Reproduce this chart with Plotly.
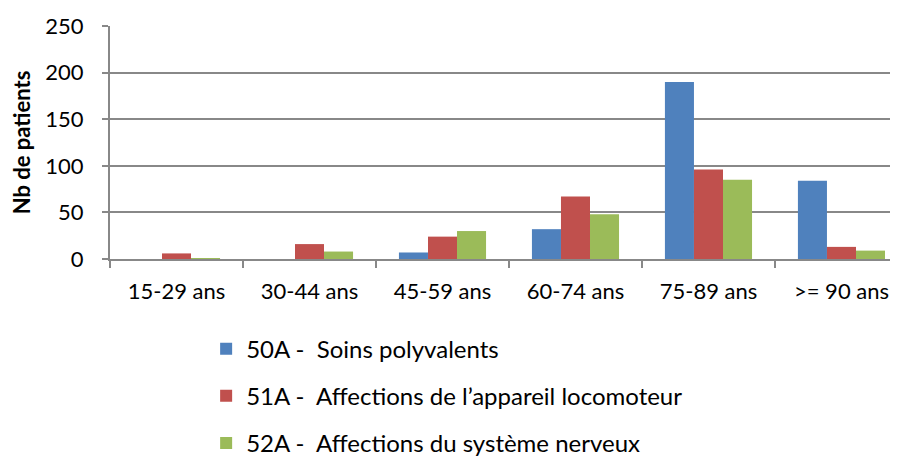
# plot.py — patients by age group and specialty

import plotly.graph_objects as go

C = {
    "blue": "#4F81BD",
    "red": "#C0504D",
    "green": "#9BBB59",
    "grid": "#888888",
    "text": "#000000",
}

ages = ["15-29 ans", "30-44 ans", "45-59 ans", "60-74 ans", "75-89 ans", ">= 90 ans"]
soins_polyvalents = [0, 0, 7, 32, 190, 84]
appareil_locomoteur = [6, 16, 24, 67, 96, 13]
systeme_nerveux = [1, 8, 30, 48, 85, 9]

series = [
    ("50A -  Soins polyvalents", soins_polyvalents, C["blue"]),
    ("51A -  Affections de l\u2019appareil locomoteur", appareil_locomoteur, C["red"]),
    ("52A -  Affections du syst\u00e8me nerveux", systeme_nerveux, C["green"]),
]

FONT = "Lato, Calibri, sans-serif"

fig = go.Figure()
for i, (name, vals, color) in enumerate(series):
    fig.add_trace(go.Bar(
        x=ages, y=vals, name=name,
        marker=dict(color=color, line=dict(width=0)),
        legendgroup=f"g{i}",
        hovertemplate="%{x}: %{y}<extra></extra>",
    ))

# page body keeps its default 8px margin: shift everything by 8px,
# the figure runs a little past the bottom of the window
fig.update_layout(
    width=890, height=457,
    paper_bgcolor="white", plot_bgcolor="white",
    font=dict(family=FONT, color=C["text"], size=22),
    margin=dict(t=18, b=206, l=102, r=0, autoexpand=False),
    barmode="group",
    bargap=0.345, bargroupgap=0,
    showlegend=True,
    legend=dict(
        x=0.122, y=-0.29, xanchor="left", yanchor="top",
        font=dict(size=24, family=FONT),
        tracegroupgap=13,
        itemwidth=30,
        maxheight=400,
    ),
    xaxis=dict(
        range=[-0.5, 5.425],
        showgrid=False, zeroline=False, automargin=False,
        showline=True, linecolor=C["grid"], linewidth=2,
        ticks="outside", tickson="boundaries", ticklen=7,
        tickcolor=C["grid"], tickwidth=2,
        tickfont=dict(size=22),
        ticklabelstandoff=12,
    ),
    yaxis=dict(
        range=[0, 250], dtick=50, automargin=False,
        showgrid=True, gridcolor=C["grid"], gridwidth=2,
        zeroline=False,
        showline=True, linecolor=C["grid"], linewidth=2,
        ticks="outside", ticklen=6, tickcolor=C["grid"], tickwidth=2,
        tickfont=dict(size=22),
        ticklabelstandoff=14,
        title=dict(text="<b>Nb de patients</b>", font=dict(size=22), standoff=10),
    ),
)

fig.write_html("out.html")
